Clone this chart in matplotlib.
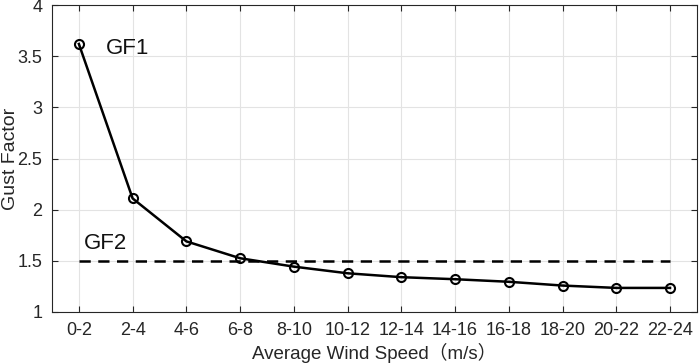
import numpy as np
import matplotlib
matplotlib.use("Agg")
from matplotlib import pyplot as plt

plt.rcParams['font.family'] = ['Liberation Sans', 'Noto Sans CJK SC', 'DejaVu Sans']

speed_bins = ['0-2', '2-4', '4-6', '6-8', '8-10', '10-12', '12-14',
              '14-16', '16-18', '18-20', '20-22', '22-24']
gf1 = [3.62, 2.11, 1.69, 1.525, 1.443, 1.378, 1.34, 1.32, 1.295, 1.258, 1.235, 1.235]
gf2 = 1.5

fig = plt.figure(figsize=(6.99, 3.64), dpi=100)
ax = fig.add_axes([0.0744, 0.143, 0.9226, 0.843])

x = np.arange(len(speed_bins))
ax.plot(x, gf1, color='black', lw=1.8, marker='o', ms=6.5,
        mfc='none', mec='black', mew=1.5, zorder=3)
ax.plot([x[0], x[-1]], [gf2, gf2], color='black', lw=1.8,
        linestyle=(0, (4.5, 3)), zorder=2)

ax.text(0.91, 3.58, 'GF1', fontsize=16, ha='center', va='center', color='#111111')
ax.text(0.5, 1.67, 'GF2', fontsize=16, ha='center', va='center', color='#111111')

ax.set_xlim(-0.5, len(speed_bins) - 0.5)
ax.set_ylim(1, 4)
ax.set_xticks(x)
ax.set_xticklabels(speed_bins)
ax.set_yticks(np.arange(1, 4.01, 0.5))
ax.set_yticklabels(['1', '1.5', '2', '2.5', '3', '3.5', '4'])

ax.grid(True, color='#e3e3e3', lw=0.8)
ax.set_axisbelow(True)
ax.tick_params(direction='in', top=True, right=True, labelsize=13,
               colors='#262626', length=4, width=0.8, pad=7)
for s in ax.spines.values():
    s.set_color('#262626')
    s.set_linewidth(0.8)

ax.set_xlabel('Average Wind Speed（m/s）', fontsize=13.5, color='#262626', labelpad=3)
ax.set_ylabel('Gust Factor', fontsize=14, color='#262626', va='center')
ax.yaxis.set_label_coords(-0.064, 0.5)

fig.savefig('out.png', dpi=100)
